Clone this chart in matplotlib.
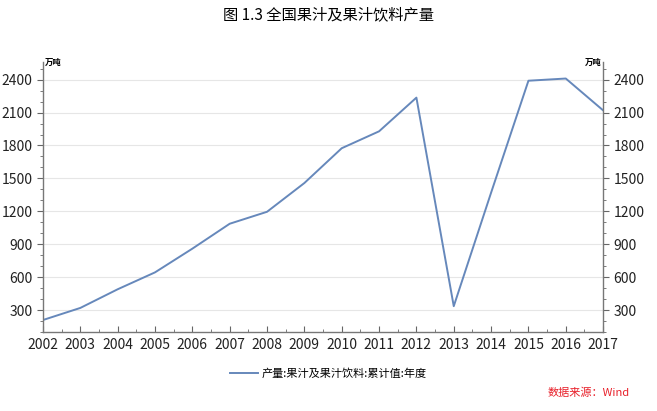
import matplotlib.pyplot as plt
from matplotlib.ticker import MultipleLocator

plt.rcParams['font.family'] = ['Noto Sans CJK SC', 'DejaVu Sans']

years = [2002, 2003, 2004, 2005, 2006, 2007, 2008, 2009, 2010, 2011,
         2012, 2013, 2014, 2015, 2016, 2017]
output = [210, 320, 490, 644, 860, 1087, 1196, 1458, 1775, 1929,
          2236, 336, 1370, 2390, 2410, 2120]
y_ticks = [300, 600, 900, 1200, 1500, 1800, 2100, 2400]

line_color = "#6688BB"
text_color = "#222222"

fig = plt.figure(figsize=(6.57, 4.11), dpi=100)
ax = fig.add_axes([0.0654, 0.192, 0.8526, 0.657])

ax.plot(years, output, color=line_color, linewidth=1.4,
        label="产量:果汁及果汁饮料:累计值:年度")

ax.set_xlim(2002, 2017)
ax.set_ylim(100, 2560)
ax.set_xticks(years)
ax.set_xticklabels([str(y) for y in years])
ax.xaxis.set_minor_locator(MultipleLocator(0.5))
ax.set_yticks(y_ticks)
ax.yaxis.set_minor_locator(MultipleLocator(100))
ax.grid(axis="y", color="#E6E6E6", linewidth=0.8)
ax.set_axisbelow(True)

ax.tick_params(axis="x", which="major", direction="in", length=4,
               labelsize=10, colors="#666666", labelcolor=text_color, pad=4)
ax.tick_params(axis="x", which="minor", direction="in", length=2, colors="#666666")
ax.tick_params(axis="y", which="major", direction="out", length=4,
               labelsize=10, colors="#666666", labelcolor=text_color,
               left=True, right=True, labelleft=True, labelright=True)
ax.tick_params(axis="y", which="minor", direction="out", length=2,
               colors="#666666", left=True, right=True)

for side in ["left", "right", "bottom"]:
    ax.spines[side].set_color("#777777")
    ax.spines[side].set_linewidth(1.0)
ax.spines["top"].set_visible(False)

# 单位标注
fig.text(0.068, 0.838, "万吨", fontsize=6, fontweight="bold", ha="left", va="bottom")
fig.text(0.915, 0.838, "万吨", fontsize=6, fontweight="bold", ha="right", va="bottom")

fig.suptitle("图 1.3 全国果汁及果汁饮料产量", x=0.5, y=0.985, fontsize=11)

ax.legend(loc="center", bbox_to_anchor=(0.5, 0.092), bbox_transform=fig.transFigure,
          frameon=False, fontsize=8, handlelength=2.5, handletextpad=0.3)

fig.text(0.958, 0.045, "数据来源：Wind", color="#E8202A", fontsize=8,
         style="italic", ha="right", va="center")

fig.savefig("out.png", dpi=100)
